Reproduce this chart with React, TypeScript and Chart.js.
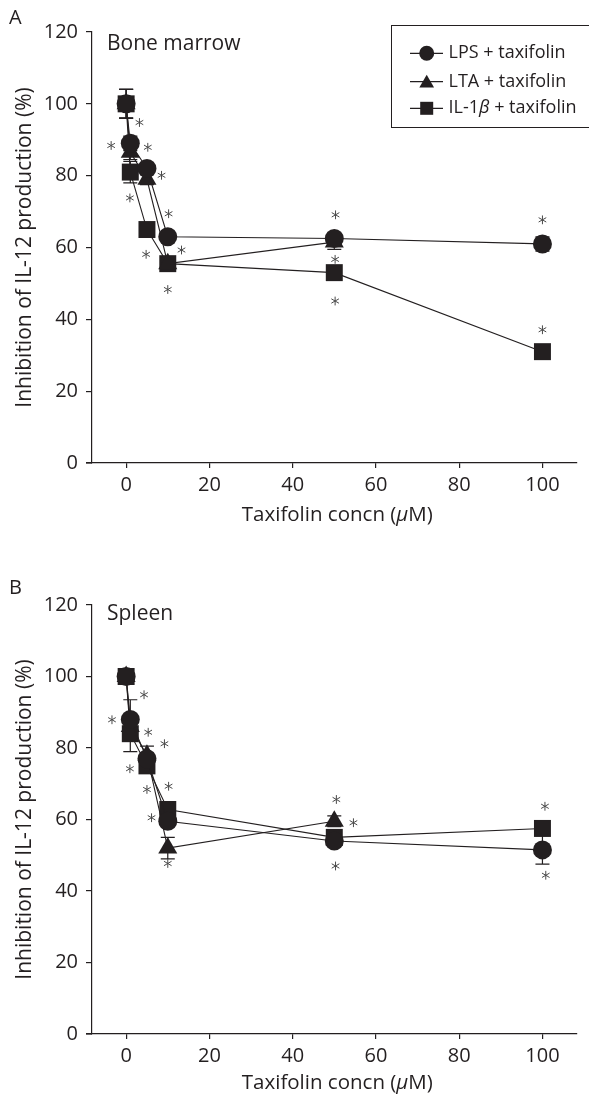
import React, { useEffect, useRef } from "react";
import { Chart, registerables } from "chart.js";

Chart.register(...registerables);

// ---------- data ----------
const concentrations = [0, 1, 5, 10, 50, 100];
const xTickValues = [0, 20, 40, 60, 80, 100];
const seriesNames = ["LPS + taxifolin", "LTA + taxifolin", "IL-1β + taxifolin"];
const xAxisTitle = "Taxifolin concn (μM)";
const yAxisTitle = "Inhibition of IL-12 production (%)";

// Panel A – bone marrow
const boneLPS = [100, 89, 82, 63, 62.5, 61];
const boneLTA = [100, 86.5, 79, 55.5, 61.5, null];
const boneIL1 = [100, 81, 65, 55.5, 53, 31];
const boneLPSErr = [4, 2, 1.5, 1, 1, 2];
const boneLTAErr = [4, 2, 1.5, 1, 2, null];
const boneIL1Err = [4, 3, 1, 1, 1, 1];
const boneStarX = [3.2, -3.6, 5.2, 8.5, 0.9, 10.2, 13.3, 4.8, 10, 50.3, 50.2, 50.2, 100, 100];
const boneStarY = [94.8, 88.4, 87.9, 80.1, 73.8, 69.4, 59.3, 58.1, 48.3, 69.1, 56.7, 45.1, 67.7, 37.1];

// Panel B – spleen
const spleenLPS = [100, 88, 77, 59.5, 54, 51.5];
const spleenLTA = [100, 86, 78, 52, 59.5, null];
const spleenIL1 = [100, 84, 75, 62.8, 55, 57.5];
const spleenLPSErr = [1, 5.5, 1.5, 1.5, 1, 4];
const spleenLTAErr = [1, 2, 2.5, 3, 1.5, null];
const spleenIL1Err = [1, 5, 1.5, 1, 1, 1];
const spleenStarX = [4.3, -3.4, 5.3, 9.2, 0.9, 5, 10.2, 6.1, 10, 50.5, 54.6, 50.3, 100.6, 100.8];
const spleenStarY = [94.9, 87.9, 84.4, 81.2, 74.2, 68.4, 69.3, 60.5, 47.7, 65.6, 59.1, 47, 63.7, 44.4];

// ---------- styling ----------
const INK = "#231f20";
const FONT = "'Open Sans', 'Noto Sans', sans-serif";
const pointStyles = ["circle", "triangle", "rect"];
const pointRadii = [9.5, 11, 12];

type PanelSpec = {
  letter: string;
  tissue: string;
  series: (number | null)[][];
  errors: (number | null)[][];
  starX: number[];
  starY: number[];
  height: number;
  padTop: number;
  plotBottom: number;
  xTitleY: number;
  legend: boolean;
  letterY: number;
  tissueY: number;
};

const panels: PanelSpec[] = [
  {
    letter: "A",
    tissue: "Bone marrow",
    series: [boneLPS, boneLTA, boneIL1],
    errors: [boneLPSErr, boneLTAErr, boneIL1Err],
    starX: boneStarX,
    starY: boneStarY,
    height: 530,
    padTop: 32,
    plotBottom: 463,
    xTitleY: 515,
    legend: true,
    letterY: 23.5,
    tissueY: 49.5,
  },
  {
    letter: "B",
    tissue: "Spleen",
    series: [spleenLPS, spleenLTA, spleenIL1],
    errors: [spleenLPSErr, spleenLTAErr, spleenIL1Err],
    starX: spleenStarX,
    starY: spleenStarY,
    height: 548,
    padTop: 55,
    plotBottom: 484,
    xTitleY: 533,
    legend: false,
    letterY: 43.5,
    tissueY: 69.5,
  },
];

function drawStar(ctx: CanvasRenderingContext2D, x: number, y: number) {
  const r = 4.4;
  ctx.save();
  ctx.strokeStyle = "#4a4a4a";
  ctx.lineWidth = 1;
  ctx.beginPath();
  for (let i = 0; i < 3; i++) {
    const a = Math.PI / 2 + (i * Math.PI) / 3;
    ctx.moveTo(x + Math.cos(a) * r, y + Math.sin(a) * r);
    ctx.lineTo(x - Math.cos(a) * r, y - Math.sin(a) * r);
  }
  ctx.stroke();
  ctx.restore();
}

function drawMarker(ctx: CanvasRenderingContext2D, style: string, x: number, y: number, r: number) {
  ctx.beginPath();
  if (style === "circle") {
    ctx.arc(x, y, r, 0, Math.PI * 2);
  } else if (style === "triangle") {
    ctx.moveTo(x, y - r);
    ctx.lineTo(x + r * Math.sin((2 * Math.PI) / 3), y + r / 2);
    ctx.lineTo(x - r * Math.sin((2 * Math.PI) / 3), y + r / 2);
    ctx.closePath();
  } else {
    ctx.rect(x - r, y - r, 2 * r, 2 * r);
  }
  ctx.fillStyle = INK;
  ctx.fill();
}

// draws text where "β"/"μ" are set in italics
function drawMixed(ctx: CanvasRenderingContext2D, text: string, x: number, y: number, size: number, align: "left" | "center") {
  const parts: { t: string; it: boolean }[] = [];
  let buf = "";
  for (const ch of text) {
    if (ch === "β" || ch === "μ") {
      if (buf) parts.push({ t: buf, it: false });
      parts.push({ t: ch, it: true });
      buf = "";
    } else buf += ch;
  }
  if (buf) parts.push({ t: buf, it: false });
  const fontOf = (it: boolean) => `${it ? "italic " : ""}${size}px ${FONT}`;
  let total = 0;
  parts.forEach((p) => {
    ctx.font = fontOf(p.it);
    total += ctx.measureText(p.t).width;
  });
  let cx = align === "center" ? x - total / 2 : x;
  ctx.textAlign = "left";
  ctx.textBaseline = "middle";
  parts.forEach((p) => {
    ctx.font = fontOf(p.it);
    ctx.fillText(p.t, cx, y);
    cx += ctx.measureText(p.t).width;
  });
}

function makePlugin(spec: PanelSpec) {
  return {
    id: "panelExtras" + spec.letter,
    beforeDatasetsDraw(chart: any) {
      const { ctx, scales } = chart;
      const xs = scales.x;
      const ys = scales.y;
      ctx.save();
      ctx.strokeStyle = INK;
      ctx.lineWidth = 1.2;
      spec.series.forEach((vals, si) => {
        vals.forEach((v, i) => {
          const e = spec.errors[si][i];
          if (v == null || e == null) return;
          const px = xs.getPixelForValue(concentrations[i]);
          const top = ys.getPixelForValue(v + e);
          const bot = ys.getPixelForValue(v - e);
          ctx.beginPath();
          ctx.moveTo(px, top);
          ctx.lineTo(px, bot);
          ctx.moveTo(px - 7, top);
          ctx.lineTo(px + 7, top);
          ctx.moveTo(px - 7, bot);
          ctx.lineTo(px + 7, bot);
          ctx.stroke();
        });
      });
      ctx.restore();
    },
    afterDraw(chart: any) {
      const { ctx, scales, chartArea } = chart;
      const xs = scales.x;
      const ys = scales.y;
      ctx.save();
      // x-axis small extension left of the y axis
      ctx.strokeStyle = INK;
      ctx.lineWidth = 1.2;
      ctx.beginPath();
      ctx.moveTo(chartArea.left - 6, chartArea.bottom);
      ctx.lineTo(chartArea.left, chartArea.bottom);
      ctx.stroke();

      spec.starX.forEach((sx, i) => {
        drawStar(ctx, xs.getPixelForValue(sx), ys.getPixelForValue(spec.starY[i]));
      });

      ctx.fillStyle = INK;
      ctx.textBaseline = "alphabetic";
      ctx.textAlign = "left";
      ctx.font = `20px ${FONT}`;
      ctx.fillText(spec.letter, 9, spec.letterY);
      ctx.font = `21px ${FONT}`;
      ctx.fillText(spec.tissue, 107, spec.tissueY);

      // x axis title with italic μ
      drawMixed(ctx, xAxisTitle, xs.getPixelForValue(50) + 3, spec.xTitleY, 20.5, "center");

      if (spec.legend) {
        const bx = 391.5;
        const by = 25.5;
        ctx.strokeStyle = INK;
        ctx.lineWidth = 1;
        ctx.strokeRect(bx, by, 220, 102);
        const rows = [53.3, 81.7, 108.3];
        const legendR = [7.5, 8.5, 6.5];
        rows.forEach((ry, i) => {
          ctx.strokeStyle = INK;
          ctx.lineWidth = 1.2;
          ctx.beginPath();
          ctx.moveTo(410, ry);
          ctx.lineTo(443, ry);
          ctx.stroke();
          drawMarker(ctx, pointStyles[i], 426.7, ry + (i === 1 ? 1.5 : 0), legendR[i]);
          ctx.fillStyle = INK;
          drawMixed(ctx, seriesNames[i], 448.5, ry, 18, "left");
        });
      }
      ctx.restore();
    },
  };
}

function Panel({ spec, top }: { spec: PanelSpec; top: number }) {
  const ref = useRef<HTMLCanvasElement | null>(null);
  useEffect(() => {
    if (!ref.current) return;
    const datasets = spec.series.map((vals, si) => ({
      label: seriesNames[si],
      data: concentrations
        .map((c, i) => ({ x: c, y: vals[i] }))
        .filter((p) => p.y != null),
      borderColor: INK,
      backgroundColor: INK,
      borderWidth: 1.1,
      pointStyle: pointStyles[si],
      pointRadius: pointRadii[si],
      pointHoverRadius: pointRadii[si],
      pointBorderWidth: 0,
      pointBackgroundColor: INK,
      fill: false,
      tension: 0,
    }));
    const tickFont = { family: FONT, size: 20 };
    const chart = new Chart(ref.current, {
      type: "line",
      data: { datasets },
      plugins: [makePlugin(spec)],
      options: {
        animation: false,
        responsive: false,
        maintainAspectRatio: false,
        layout: { padding: { top: spec.padTop, left: 0, right: 3, bottom: 0 } },
        plugins: { legend: { display: false }, tooltip: { enabled: false } },
        scales: {
          x: {
            type: "linear",
            min: -8.2,
            max: 108.3,
            afterBuildTicks: (s: any) => {
              s.ticks = xTickValues.map((v) => ({ value: v }));
            },
            afterFit: (s: any) => {
              s.height = spec.height - spec.plotBottom;
            },
            grid: { drawOnChartArea: false, tickLength: 5, color: INK, lineWidth: 1.2 },
            border: { display: true, color: INK, width: 1.2 },
            ticks: { font: tickFont, color: INK, padding: 5, autoSkip: false, maxRotation: 0 },
            title: { display: false },
          },
          y: {
            min: 0,
            max: 120,
            afterFit: (s: any) => {
              s.width = 92;
            },
            grid: { drawOnChartArea: false, tickLength: 6, color: INK, lineWidth: 1.2 },
            border: { display: true, color: INK, width: 1.2 },
            ticks: { stepSize: 20, font: tickFont, color: INK, padding: 8 },
            title: {
              display: true,
              text: yAxisTitle,
              font: { family: FONT, size: 21 },
              color: INK,
              padding: { top: 12, bottom: 0 },
            },
          },
        },
      } as any,
    });
    return () => chart.destroy();
  }, [spec]);
  return (
    <canvas
      ref={ref}
      width={589}
      height={spec.height}
      style={{ position: "absolute", left: 0, top, width: 589, height: spec.height, display: "block" }}
    />
  );
}

export default function App() {
  return (
    <div style={{ position: "absolute", left: 0, top: 0, width: 589, height: 1100, background: "#fff", overflow: "hidden" }}>
      <Panel spec={panels[0]} top={0} />
      <Panel spec={panels[1]} top={550} />
    </div>
  );
}
